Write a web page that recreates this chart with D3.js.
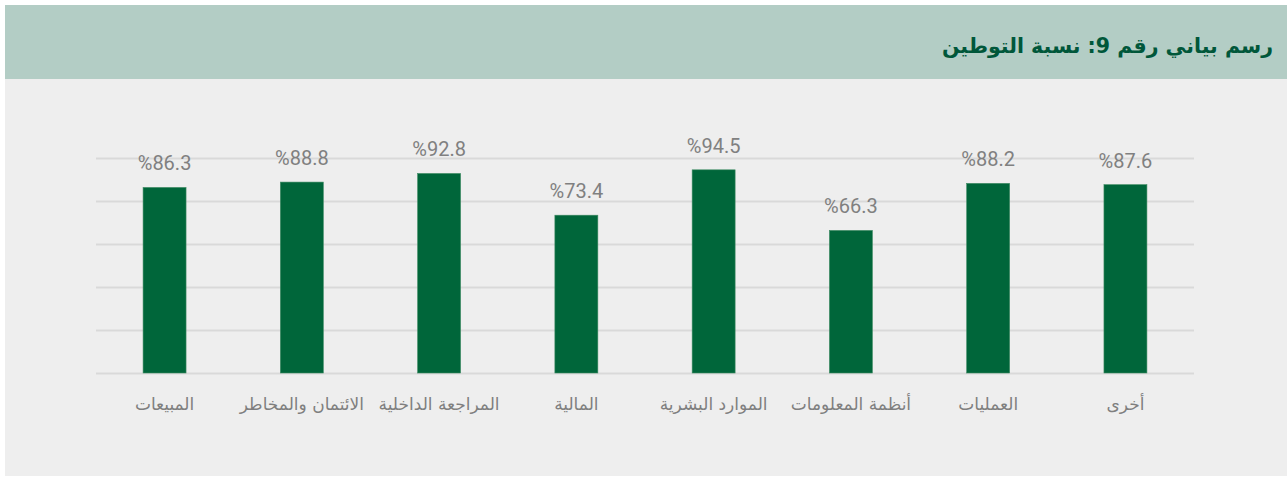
<!DOCTYPE html>
<html>
<head>
<meta charset="utf-8">
<title>نسبة التوطين</title>
<script src="https://d3js.org/d3.v7.min.js"></script>
<style>
  body { margin: 0; background: #ffffff; }
</style>
</head>
<body>
<div id="chart"></div>
<script>
// categories in reading order (right to left)
var categories = ["أخرى", "العمليات", "أنظمة المعلومات", "الموارد البشرية", "المالية", "المراجعة الداخلية", "الائتمان والمخاطر", "المبيعات"];
var values = [87.6, 88.2, 66.3, 94.5, 73.4, 92.8, 88.8, 86.3];
var yTicks = [0, 20, 40, 60, 80, 100];
var title = "رسم بياني رقم 9: نسبة التوطين";

var W = 1287, H = 477;
var margin = { top: 158, right: 93, bottom: 104, left: 96 };
var width = W - margin.left - margin.right,
    height = H - margin.top - margin.bottom;

var svg = d3.select("#chart").append("svg")
    .attr("width", W)
    .attr("height", H);

// panels
svg.append("rect").attr("x", 5).attr("y", 79).attr("width", W - 5).attr("height", 397).attr("fill", "#eeeeee");
svg.append("rect").attr("x", 5).attr("y", 5).attr("width", W - 5).attr("height", 74).attr("fill", "#b3cdc5");

svg.append("text")
    .attr("x", 1273).attr("y", 53)
    .attr("direction", "rtl")
    .attr("text-anchor", "start")
    .style("font-family", "'DejaVu Sans', sans-serif")
    .style("font-size", "20.5px")
    .style("font-weight", "bold")
    .attr("fill", "#00573a")
    .text(title);

var g = svg.append("g").attr("transform", "translate(" + margin.left + "," + margin.top + ")");

var x = d3.scaleBand()
    .domain(categories)
    .range([width, 0])
    .paddingInner(0.687)
    .paddingOuter(0.343);

var y = d3.scaleLinear()
    .domain([0, 100])
    .range([height, 0]);

// gridlines
g.append("g")
    .call(d3.axisLeft(y).tickValues(yTicks).tickSize(-width).tickFormat(""))
    .call(function (a) {
        a.select(".domain").remove();
        a.selectAll("line").attr("stroke", "#d9d9d9").attr("stroke-width", 2);
    });

// bars
g.selectAll(".bar")
    .data(values)
    .enter()
    .append("rect")
    .attr("class", "bar")
    .attr("x", function (d, i) { return x(categories[i]); })
    .attr("y", function (d) { return y(d); })
    .attr("width", x.bandwidth())
    .attr("height", function (d) { return height - y(d); })
    .attr("fill", "#00663a")
    .attr("stroke", "#3d8a62")
    .attr("stroke-width", 0.6);

// value labels
g.selectAll(".val")
    .data(values)
    .enter()
    .append("text")
    .attr("x", function (d, i) { return x(categories[i]) + x.bandwidth() / 2; })
    .attr("y", function (d) { return y(d) - 17; })
    .attr("text-anchor", "middle")
    .attr("direction", "ltr")
    .style("font-family", "Roboto, sans-serif")
    .style("font-size", "20px")
    .attr("fill", "#808080")
    .text(function (d) { return "%" + d.toFixed(1); });

// category labels
var xAxis = g.append("g")
    .attr("transform", "translate(0," + height + ")")
    .call(d3.axisBottom(x).tickSize(0).tickPadding(25));
xAxis.select(".domain").remove();
xAxis.selectAll("text")
    .style("font-family", "'DejaVu Sans', sans-serif")
    .style("font-size", "17px")
    .attr("fill", "#7f7f7f");
</script>
</body>
</html>
